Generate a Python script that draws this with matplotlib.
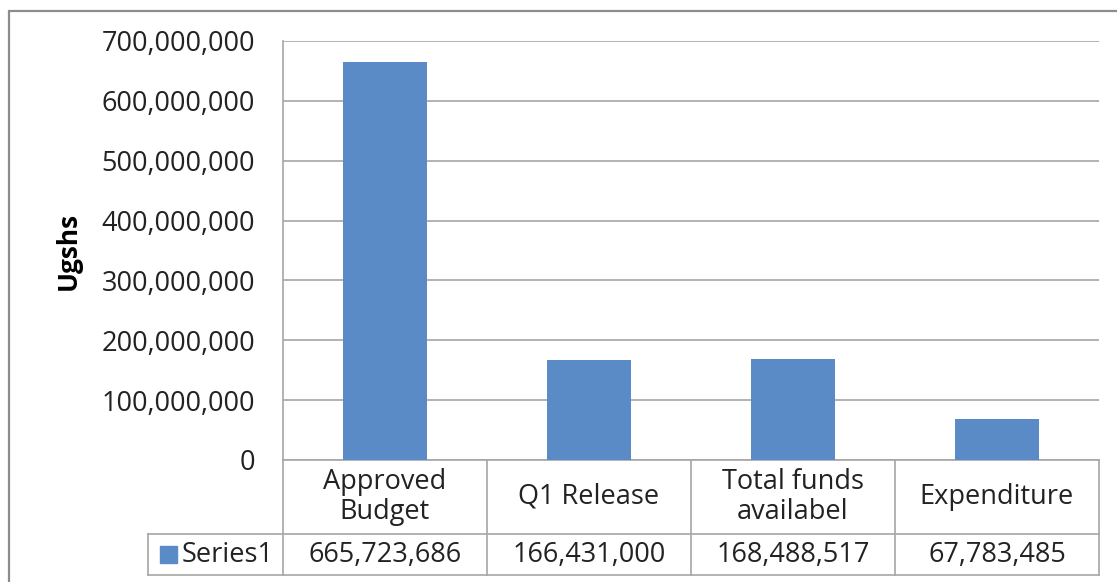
import matplotlib.pyplot as plt
import matplotlib.ticker as mticker
from matplotlib.patches import Rectangle

categories = ['Approved\nBudget', 'Q1 Release', 'Total funds\navailabel', 'Expenditure']
values = [665723686, 166431000, 168488517, 67783485]
series_name = 'Series1'
yticks = [0, 100000000, 200000000, 300000000, 400000000, 500000000, 600000000, 700000000]

bar_color = '#5b8bc6'
line_color = '#a6a6a6'
text_color = '#222222'
fs = 19.5
plt.rcParams['font.family'] = ['Open Sans', 'DejaVu Sans']

W, H = 1117, 582
fig = plt.figure(figsize=(W / 100, H / 100), dpi=100)

# plot area in pixel terms
left, right, top, bottom = 283, 1099, 41, 460
ax = fig.add_axes([left / W, 1 - bottom / H, (right - left) / W, (bottom - top) / H])

x = range(len(values))
ax.bar(x, values, width=0.41, color=bar_color, zorder=3)
ax.set_xlim(-0.5, len(values) - 0.5)
ax.set_ylim(0, 700000000)
ax.set_yticks(yticks)
ax.yaxis.set_major_formatter(mticker.FuncFormatter(lambda v, p: f'{int(v):,}'))
ax.tick_params(axis='y', length=0, pad=20, labelsize=fs, labelcolor=text_color)
ax.set_xticks([])
ax.grid(axis='y', color=line_color, linewidth=1.2, zorder=0)
for s in ['top', 'right']:
    ax.spines[s].set_visible(False)
for s in ['left', 'bottom']:
    ax.spines[s].set_color(line_color)
    ax.spines[s].set_linewidth(1.2)
ax.set_ylabel('Ugshs', fontsize=19, fontweight='bold')
ax.yaxis.set_label_coords(-(left - 82) / (right - left), 0.5)

# data table below the plot
ph = bottom - top
unit = (right - left) / len(values)
row1 = -(534 - bottom) / ph
row2 = -(575 - bottom) / ph
table_left = -0.5 - (left - 148) / unit
tr = ax.get_xaxis_transform()
kw = dict(color=line_color, linewidth=1.2, transform=tr, clip_on=False)
n = len(values)
ax.plot([table_left, n - 0.5], [row1, row1], **kw)
ax.plot([table_left, n - 0.5], [row2, row2], **kw)
ax.plot([table_left, table_left], [row1, row2], **kw)
for b in range(n + 1):
    ax.plot([b - 0.5, b - 0.5], [0, row2], **kw)

for i, (c, v) in enumerate(zip(categories, values)):
    ax.text(i, row1 / 2, c, transform=tr, ha='center', va='center',
            fontsize=fs, color=text_color, linespacing=1.1)
    ax.text(i, (row1 + row2) / 2, f'{v:,}', transform=tr, ha='center',
            va='center', fontsize=fs, color=text_color)

# legend key in the table
ax.add_patch(Rectangle((table_left + 12 / unit, (row1 + row2) / 2 - 8.5 / ph), 17 / unit,
                       17 / ph, transform=tr, color=bar_color, clip_on=False))
ax.text(table_left + 34 / unit, (row1 + row2) / 2, series_name, transform=tr,
        ha='left', va='center', fontsize=fs, color=text_color)

# chart border
fig.patches.append(Rectangle((9 / W, -0.05), 1.1, 1 - 11 / H + 0.05, transform=fig.transFigure,
                             fill=False, edgecolor='#8c8c8c', linewidth=1.6))

fig.savefig('out.png', dpi=100)
